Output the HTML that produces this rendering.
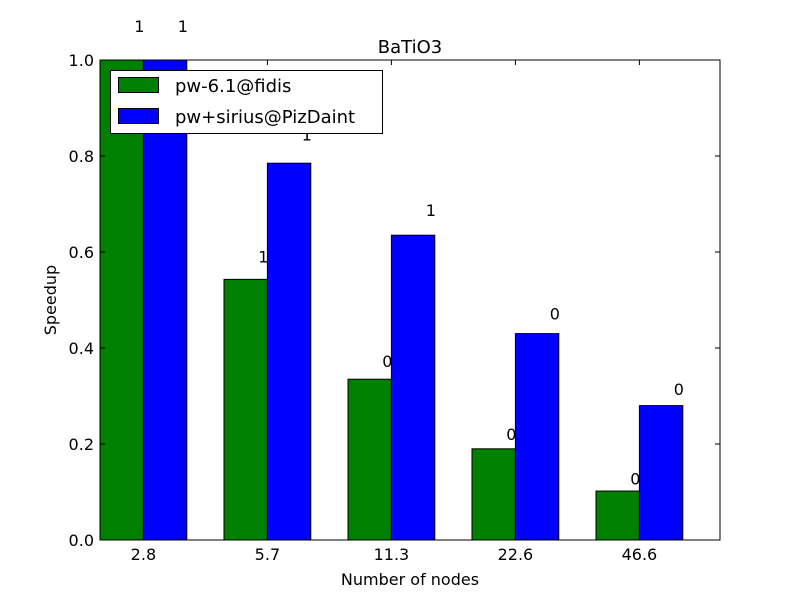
<!DOCTYPE html>
<html><head><meta charset="utf-8"><style>body{margin:0;background:#fff}svg{font-family:"DejaVu Sans","Liberation Sans",sans-serif}</style></head>
<body>
<svg id="chart" width="800" height="600" xmlns="http://www.w3.org/2000/svg">
<rect width="800" height="600" fill="#fff"/>
<g id="bars"></g>
<g id="axes"></g>
<text x="410" y="53" text-anchor="middle" font-size="18">BaTiO3</text>
<text x="410" y="585" text-anchor="middle" font-size="16">Number of nodes</text>
<text x="56" y="300" text-anchor="middle" font-size="16" transform="rotate(-90 56 300)">Speedup</text>
<g>
<rect x="110.5" y="70.5" width="272" height="63" fill="#fff" stroke="#000"/>
<rect x="118.5" y="77.5" width="40" height="15" fill="#008000" stroke="#000"/>
<text x="175" y="92" font-size="18">pw-6.1@fidis</text>
<rect x="118.5" y="108.5" width="40" height="15" fill="#0000ff" stroke="#000"/>
<text x="175" y="123" font-size="18">pw+sirius@PizDaint</text>
</g>
</svg>
<script>
const categories = ["2.8","5.7","11.3","22.6","46.6"];
const fidis = [1.0, 0.543, 0.335, 0.19, 0.102];
const pizdaint = [1.0, 0.785, 0.635, 0.43, 0.28];
const fidisLabels = ["1","1","0","0","0"];
const pizLabels = ["1","1","1","0","0"];
const yTicks = [0,0.2,0.4,0.6,0.8,1.0];
const NS="http://www.w3.org/2000/svg";
const L=100,R=720,T=60,B=540,W=0.35;
const xs=v=>L+(v/5)*(R-L);
const ys=v=>B-v*(B-T);
function mk(tag,at,p){const e=document.createElementNS(NS,tag);for(const k in at)e.setAttribute(k,at[k]);p.appendChild(e);return e;}
const bars=document.getElementById('bars'),axes=document.getElementById('axes');
function series(vals,labels,off,color,nm){
 vals.forEach((v,i)=>{
  const x0=xs(i+off),x1=xs(i+off+W);
  const r=mk('rect',{x:x0,y:ys(v),width:x1-x0,height:ys(0)-ys(v),fill:color,stroke:'#000'},bars);
  
  
  const t=mk('text',{x:x1-4,y:ys(1.05*v)-4,'text-anchor':'middle','font-size':16},bars);
  t.textContent=labels[i];
  
  
 });
}
series(fidis,fidisLabels,0,'#008000','fidis');
series(pizdaint,pizLabels,W,'#0000ff','pizdaint');
const frame=mk('rect',{x:L,y:T,width:R-L,height:B-T,fill:'none',stroke:'#000'},axes);


yTicks.forEach(v=>{
 const y=ys(v);
 mk('line',{x1:L,x2:L+5,y1:y,y2:y,stroke:'#000'},axes);
 mk('line',{x1:R,x2:R-5,y1:y,y2:y,stroke:'#000'},axes);
 const t=mk('text',{x:L-6,y:y+6,'text-anchor':'end','font-size':16},axes);
 t.textContent=v.toFixed(1);
 
 
});
categories.forEach((c,i)=>{
 const x=xs(i+W);
 mk('line',{x1:x,x2:x,y1:B,y2:B-5,stroke:'#000'},axes);
 mk('line',{x1:x,x2:x,y1:T,y2:T+5,stroke:'#000'},axes);
 const t=mk('text',{x:x,y:B+20,'text-anchor':'middle','font-size':16},axes);
 t.textContent=c;
 
 
});
</script>
</body></html>
